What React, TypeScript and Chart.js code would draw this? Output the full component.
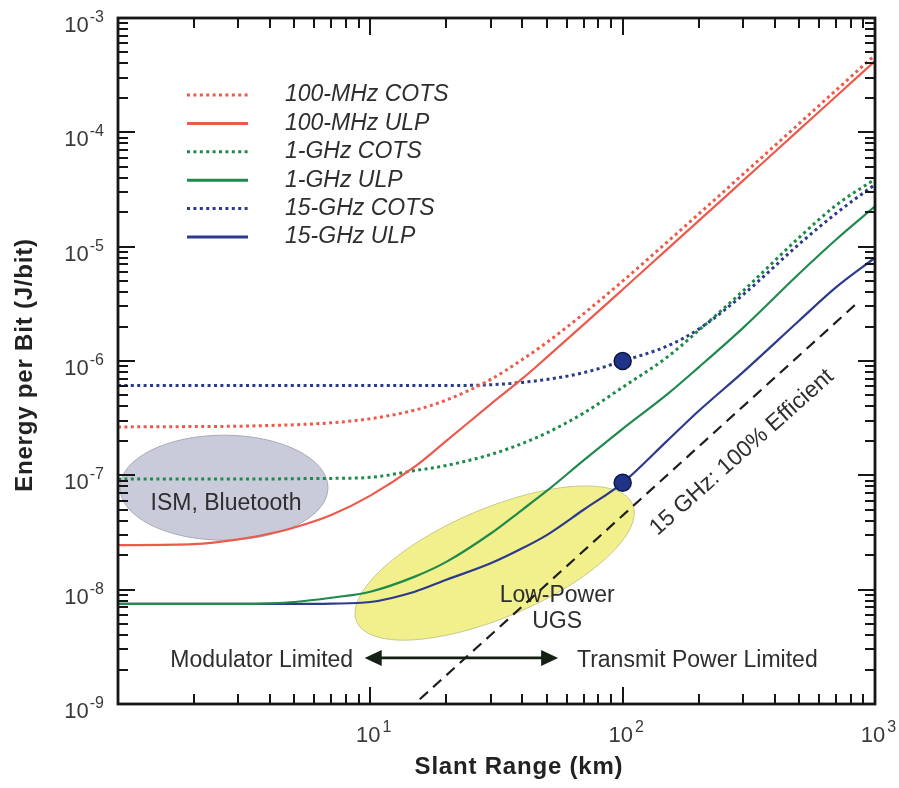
import React, { useEffect, useRef } from "react";
import { Chart, registerables } from "chart.js";

Chart.register(...registerables);

// ---------------- data ----------------
const rangeKm = [1, 2, 3, 4, 5, 7, 10, 15, 20, 30, 40, 50, 70, 100, 150, 200, 300, 500, 700, 1000];

const mhz100Cots = [2.65e-7, 2.67e-7, 2.69e-7, 2.73e-7, 2.77e-7, 2.88e-7, 3.13e-7, 3.72e-7, 4.55e-7, 6.9e-7, 1.03e-6, 1.45e-6, 2.59e-6, 5.0e-6, 1.095e-5, 1.93e-5, 4.3e-5, 1.19e-4, 2.33e-4, 4.75e-4];
const mhz100Ulp = [2.45e-8, 2.5e-8, 2.75e-8, 3.1e-8, 3.5e-8, 4.5e-8, 6.65e-8, 1.19e-7, 2.0e-7, 4.2e-7, 7.0e-7, 1.075e-6, 2.08e-6, 4.22e-6, 9.47e-6, 1.68e-5, 3.78e-5, 1.05e-4, 2.06e-4, 4.2e-4];
const ghz1Cots = [9.3e-8, 9.3e-8, 9.3e-8, 9.3e-8, 9.35e-8, 9.4e-8, 9.6e-8, 1.1e-7, 1.22e-7, 1.52e-7, 1.9e-7, 2.35e-7, 3.5e-7, 5.9e-7, 1.08e-6, 1.85e-6, 4.1e-6, 1.2e-5, 2.3e-5, 3.9e-5];
const ghz1Ulp = [7.5e-9, 7.5e-9, 7.5e-9, 7.6e-9, 7.8e-9, 8.5e-9, 9.6e-9, 1.3e-8, 1.75e-8, 3.1e-8, 5.0e-8, 7.3e-8, 1.35e-7, 2.55e-7, 5.1e-7, 8.8e-7, 1.95e-6, 5.8e-6, 1.15e-5, 2.25e-5];
const ghz15Cots = [6.1e-7, 6.1e-7, 6.1e-7, 6.1e-7, 6.1e-7, 6.1e-7, 6.1e-7, 6.1e-7, 6.1e-7, 6.2e-7, 6.5e-7, 6.9e-7, 7.9e-7, 1.0e-6, 1.35e-6, 1.9e-6, 3.8e-6, 1.05e-5, 1.95e-5, 3.5e-5];
const ghz15Ulp = [7.5e-9, 7.5e-9, 7.5e-9, 7.5e-9, 7.5e-9, 7.55e-9, 7.8e-9, 9.6e-9, 1.22e-8, 1.7e-8, 2.3e-8, 3.0e-8, 5.0e-8, 8.6e-8, 2.0e-7, 3.65e-7, 8.0e-7, 2.25e-6, 4.4e-6, 8.0e-6];

const efficientX = [15.7, 870];
const efficientY = [1.1e-9, 3.37e-6];

const markerX = [100, 100];
const markerY = [1.0e-6, 8.6e-8];

const seriesLabels = ["100-MHz COTS", "100-MHz ULP", "1-GHz COTS", "1-GHz ULP", "15-GHz COTS", "15-GHz ULP"];
const xDecades = [1, 10, 100, 1000];
const yDecades = [1e-9, 1e-8, 1e-7, 1e-6, 1e-5, 1e-4, 1e-3];
const xTickLabels = ["", "1", "2", "3"];
const yTickLabels = ["-9", "-8", "-7", "-6", "-5", "-4", "-3"];

// ---------------- styles ----------------
const RED = "#ec5a4c";
const GREEN = "#1f8a4b";
const BLUE = "#2c3a8c";
const FONT = '"Liberation Sans", Arial, Helvetica, sans-serif';
const TEXT = "#2e2e2e";
const TICKTEXT = "#3a3a3a";

const seriesColors = [RED, RED, GREEN, GREEN, BLUE, BLUE];
const seriesDotted = [true, false, true, false, true, false];

// annotation anchors (data coordinates)
const ismAnchor = { x: 2.63, y: 7.8e-8 };
const ismTextAnchor = { x: 2.68, y: 4.98e-8 };
const ugsAnchor = { x: 31.1, y: 1.71e-8 };
const lowPowerAnchor = { x: 55, y: 7.8e-9 };
const ugsTextAnchor = { x: 55, y: 4.62e-9 };
const arrowLeft = { x: 9.5, y: 2.53e-9 };
const arrowRight = { x: 55.5, y: 2.53e-9 };
const modulatorAnchor = { x: 8.55, y: 2.11e-9 };
const transmitAnchor = { x: 65.9, y: 2.11e-9 };
const efficientTextAnchor = { x: 297, y: 1.585e-7 };

const overlayPlugin = {
  id: "overlay",
  beforeDatasetsDraw(chart: any) {
    const ctx = chart.ctx as CanvasRenderingContext2D;
    const xs = chart.scales.x;
    const ys = chart.scales.y;
    const area = chart.chartArea;
    ctx.save();
    ctx.beginPath();
    ctx.rect(area.left, area.top, area.right - area.left, area.bottom - area.top);
    ctx.clip();
    // ISM ellipse
    ctx.beginPath();
    ctx.ellipse(xs.getPixelForValue(ismAnchor.x), ys.getPixelForValue(ismAnchor.y), 104, 52.5, 0, 0, Math.PI * 2);
    ctx.fillStyle = "#c9cada";
    ctx.fill();
    ctx.lineWidth = 1;
    ctx.strokeStyle = "#a9aab8";
    ctx.stroke();
    // UGS ellipse
    ctx.beginPath();
    ctx.ellipse(xs.getPixelForValue(ugsAnchor.x), ys.getPixelForValue(ugsAnchor.y), 150, 54.5, (-23 * Math.PI) / 180, 0, Math.PI * 2);
    ctx.fillStyle = "#f1f08c";
    ctx.fill();
    ctx.strokeStyle = "#c9c88a";
    ctx.stroke();
    // ellipse texts
    ctx.fillStyle = TEXT;
    ctx.font = `23px ${FONT}`;
    ctx.textAlign = "center";
    ctx.textBaseline = "alphabetic";
    ctx.fillText("ISM, Bluetooth", xs.getPixelForValue(ismTextAnchor.x), ys.getPixelForValue(ismTextAnchor.y));
    ctx.fillText("Low-Power", xs.getPixelForValue(lowPowerAnchor.x), ys.getPixelForValue(lowPowerAnchor.y));
    ctx.fillText("UGS", xs.getPixelForValue(ugsTextAnchor.x), ys.getPixelForValue(ugsTextAnchor.y));
    ctx.restore();
  },
  afterDraw(chart: any) {
    const ctx = chart.ctx as CanvasRenderingContext2D;
    const xs = chart.scales.x;
    const ys = chart.scales.y;
    const a = chart.chartArea;
    ctx.save();
    ctx.strokeStyle = "#161616";

    // ticks
    const MAJ = 17;
    const MIN = 10;
    ctx.lineWidth = 2;
    ctx.beginPath();
    xDecades.forEach((d, i) => {
      for (let m = 1; m <= 9; m++) {
        if (i === xDecades.length - 1 && m > 1) continue;
        const px = Math.round(xs.getPixelForValue(d * m));
        const len = m === 1 ? MAJ : MIN;
        ctx.moveTo(px, a.bottom);
        ctx.lineTo(px, a.bottom - len);
        ctx.moveTo(px, a.top);
        ctx.lineTo(px, a.top + len);
      }
    });
    yDecades.forEach((d, i) => {
      for (let m = 1; m <= 9; m++) {
        if (i === yDecades.length - 1 && m > 1) continue;
        const py = Math.round(ys.getPixelForValue(d * m));
        const len = m === 1 ? MAJ : MIN;
        ctx.moveTo(a.left, py);
        ctx.lineTo(a.left + len, py);
        ctx.moveTo(a.right, py);
        ctx.lineTo(a.right - len, py);
      }
    });
    ctx.stroke();

    // frame
    ctx.lineWidth = 2.8;
    ctx.strokeRect(a.left, a.top, a.right - a.left, a.bottom - a.top);

    // y tick labels
    ctx.fillStyle = TICKTEXT;
    ctx.textAlign = "left";
    ctx.textBaseline = "alphabetic";
    yDecades.forEach((d, i) => {
      const py = ys.getPixelForValue(d);
      ctx.font = `22px ${FONT}`;
      const wb = ctx.measureText("10").width;
      ctx.font = `16px ${FONT}`;
      const sup = yTickLabels[i];
      const ws = ctx.measureText(sup).width;
      const right = a.left - 14;
      ctx.font = `22px ${FONT}`;
      ctx.fillText("10", right - ws - wb - 1, py + 14);
      ctx.font = `16px ${FONT}`;
      ctx.fillText(sup, right - ws, py + 4);
    });
    // x tick labels
    xDecades.forEach((d, i) => {
      const sup = xTickLabels[i];
      if (!sup) return;
      const px = xs.getPixelForValue(d);
      ctx.font = `22px ${FONT}`;
      const wb = ctx.measureText("10").width;
      ctx.fillText("10", px - 2 - wb / 2, a.bottom + 38);
      ctx.font = `16px ${FONT}`;
      ctx.fillText(sup, px - 2 + wb / 2 + 2, a.bottom + 28);
    });

    // axis titles
    ctx.font = `bold 24px ${FONT}`;
    (ctx as any).letterSpacing = "0.8px";
    ctx.fillStyle = "#222";
    ctx.textAlign = "center";
    ctx.textBaseline = "middle";
    ctx.fillText("Slant Range (km)", 519, a.bottom + 63);
    ctx.save();
    ctx.translate(25, 365);
    ctx.rotate(-Math.PI / 2);
    ctx.fillText("Energy per Bit (J/bit)", 0, 0);
    ctx.restore();
    (ctx as any).letterSpacing = "0px";

    // arrow
    const ax1 = xs.getPixelForValue(arrowLeft.x);
    const ax2 = xs.getPixelForValue(arrowRight.x);
    const ay = ys.getPixelForValue(arrowLeft.y);
    ctx.strokeStyle = "#142014";
    ctx.fillStyle = "#142014";
    ctx.lineWidth = 2.6;
    ctx.beginPath();
    ctx.moveTo(ax1 + 12, ay);
    ctx.lineTo(ax2 - 12, ay);
    ctx.stroke();
    ctx.beginPath();
    ctx.moveTo(ax1, ay);
    ctx.lineTo(ax1 + 17, ay - 8);
    ctx.lineTo(ax1 + 17, ay + 8);
    ctx.closePath();
    ctx.fill();
    ctx.beginPath();
    ctx.moveTo(ax2, ay);
    ctx.lineTo(ax2 - 17, ay - 8);
    ctx.lineTo(ax2 - 17, ay + 8);
    ctx.closePath();
    ctx.fill();

    // arrow texts
    ctx.fillStyle = TEXT;
    ctx.font = `23px ${FONT}`;
    ctx.textBaseline = "alphabetic";
    ctx.textAlign = "right";
    ctx.fillText("Modulator Limited", xs.getPixelForValue(modulatorAnchor.x), ys.getPixelForValue(modulatorAnchor.y));
    ctx.textAlign = "left";
    ctx.fillText("Transmit Power Limited", xs.getPixelForValue(transmitAnchor.x), ys.getPixelForValue(transmitAnchor.y));

    // rotated efficiency label
    ctx.save();
    ctx.translate(xs.getPixelForValue(efficientTextAnchor.x), ys.getPixelForValue(efficientTextAnchor.y));
    ctx.rotate((-41.7 * Math.PI) / 180);
    ctx.textAlign = "center";
    ctx.textBaseline = "middle";
    ctx.fillText("15 GHz: 100% Efficient", 0, 0);
    ctx.restore();

    // legend
    const lx1 = 187;
    const lx2 = 248;
    const ly0 = 95;
    const step = 28.4;
    seriesLabels.forEach((lab, i) => {
      const y = ly0 + i * step;
      ctx.beginPath();
      ctx.strokeStyle = seriesColors[i];
      ctx.lineWidth = 3;
      ctx.setLineDash(seriesDotted[i] ? [3, 3.4] : []);
      ctx.moveTo(lx1, y);
      ctx.lineTo(lx2, y);
      ctx.stroke();
      ctx.setLineDash([]);
      ctx.fillStyle = TEXT;
      ctx.font = `italic 23px ${FONT}`;
      ctx.textAlign = "left";
      ctx.textBaseline = "middle";
      ctx.fillText(lab, 285, y);
    });
    ctx.restore();
  },
};

export default function App() {
  const ref = useRef<HTMLCanvasElement>(null);
  useEffect(() => {
    document.body.style.margin = "0";
    const canvas = ref.current;
    if (!canvas) return;
    const pts = (ys: number[]) => rangeKm.map((x, i) => ({ x, y: ys[i] }));
    const seriesValues = [mhz100Cots, mhz100Ulp, ghz1Cots, ghz1Ulp, ghz15Cots, ghz15Ulp];
    const lineSets = seriesValues.map((vals, i) => ({
      label: seriesLabels[i],
      data: pts(vals),
      borderColor: seriesColors[i],
      backgroundColor: seriesColors[i],
      borderWidth: seriesDotted[i] ? 3 : 2.2,
      borderDash: seriesDotted[i] ? [3, 3.4] : [],
      pointRadius: 0,
      cubicInterpolationMode: "monotone" as const,
      fill: false,
      order: 2,
    }));
    const chart = new Chart(canvas, {
      type: "line",
      data: {
        datasets: [
          {
            label: "markers",
            data: markerX.map((x, i) => ({ x, y: markerY[i] })),
            showLine: false,
            pointRadius: 8.5,
            pointBackgroundColor: "#1f3388",
            pointBorderColor: "#0c1640",
            pointBorderWidth: 1.5,
            order: 0,
          } as any,
          {
            label: "15 GHz: 100% Efficient",
            data: efficientX.map((x, i) => ({ x, y: efficientY[i] })),
            borderColor: "#1e1e1e",
            borderWidth: 2.2,
            borderDash: [11, 7],
            pointRadius: 0,
            fill: false,
            order: 1,
          },
          ...lineSets,
        ],
      },
      options: {
        responsive: false,
        animation: false,
        events: [],
        layout: { padding: { left: 118, right: 24, top: 18, bottom: 84 } },
        plugins: { legend: { display: false }, tooltip: { enabled: false } },
        scales: {
          x: { type: "logarithmic", min: 1, max: 1000, display: false },
          y: { type: "logarithmic", min: 1e-9, max: 1e-3, display: false },
        },
      },
      plugins: [overlayPlugin],
    });
    return () => chart.destroy();
  }, []);
  return (
    <div style={{ width: 899, height: 788, background: "#fff" }}>
      <canvas ref={ref} width={899} height={788} style={{ display: "block" }} />
    </div>
  );
}
